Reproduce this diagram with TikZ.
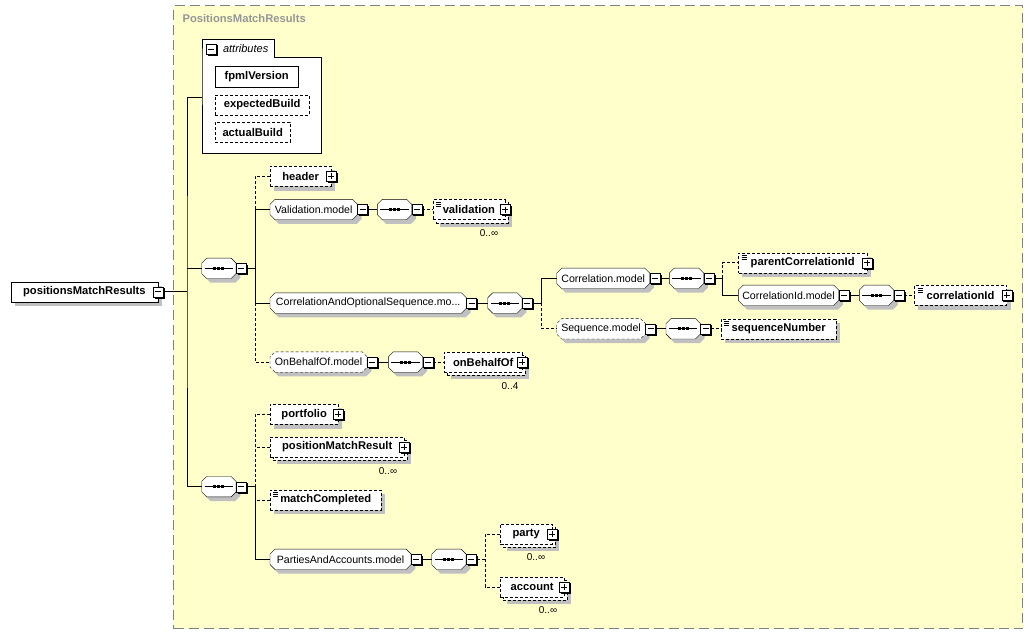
\documentclass[tikz,border=0pt]{standalone}
\usepackage{fontspec}
\setmainfont{Liberation Sans}
\usetikzlibrary{positioning, calc, fit}
\definecolor{groupyellow}{RGB}{255, 255, 204}
\definecolor{groupborder}{RGB}{128, 128, 128}
\definecolor{titlegray}{RGB}{150, 150, 150}
\definecolor{shadowgray}{RGB}{192, 192, 192}

\pgfdeclarelayer{groupbg}
\pgfdeclarelayer{shadowbg}
\pgfdeclarelayer{toggleshadow}
\pgfdeclarelayer{front}
\pgfsetlayers{groupbg,shadowbg,main,toggleshadow,front}

% octagon with cut corners for model groups and compositors
\newdimen\octcut \octcut=5pt
\newdimen\octxa \newdimen\octya \newdimen\octxb \newdimen\octyb
\newdimen\octxc \newdimen\octyc \newdimen\octxd \newdimen\octyd
\makeatletter
\pgfdeclareshape{octbox}{
  \inheritsavedanchors[from=rectangle]
  \inheritanchorborder[from=rectangle]
  \inheritanchor[from=rectangle]{center}
  \inheritanchor[from=rectangle]{north}
  \inheritanchor[from=rectangle]{south}
  \inheritanchor[from=rectangle]{west}
  \inheritanchor[from=rectangle]{east}
  \inheritanchor[from=rectangle]{north west}
  \inheritanchor[from=rectangle]{north east}
  \inheritanchor[from=rectangle]{south west}
  \inheritanchor[from=rectangle]{south east}
  \inheritanchor[from=rectangle]{base}
  \inheritanchor[from=rectangle]{mid}
  \backgroundpath{%
    \southwest \octxa=\pgf@x \octya=\pgf@y
    \northeast \octxb=\pgf@x \octyb=\pgf@y
    \octxc=\octxa \advance\octxc by\octcut
    \octyc=\octya \advance\octyc by\octcut
    \octxd=\octxb \advance\octxd by-\octcut
    \octyd=\octyb \advance\octyd by-\octcut
    \pgfpathmoveto{\pgfqpoint{\octxc}{\octya}}%
    \pgfpathlineto{\pgfqpoint{\octxd}{\octya}}%
    \pgfpathlineto{\pgfqpoint{\octxb}{\octyc}}%
    \pgfpathlineto{\pgfqpoint{\octxb}{\octyd}}%
    \pgfpathlineto{\pgfqpoint{\octxd}{\octyb}}%
    \pgfpathlineto{\pgfqpoint{\octxc}{\octyb}}%
    \pgfpathlineto{\pgfqpoint{\octxa}{\octyd}}%
    \pgfpathlineto{\pgfqpoint{\octxa}{\octyc}}%
    \pgfpathclose
  }
}
\makeatother

\begin{document}
\begin{tikzpicture}[
    x=1pt, y=-1pt,
    line width=0.8pt,
    regfont/.style={font=\fontsize{10.6}{12}\selectfont},
    boldfont/.style={font=\fontsize{11.2}{13}\selectfont\bfseries},
    optl/.style={dash pattern=on 3pt off 2pt},
    link/.style={draw, line width=0.8pt},
    elem/.style={rectangle, draw, fill=white, minimum height=20pt, inner sep=0pt, anchor=west, boldfont},
    optelem/.style={elem, optl},
    simple/.style={path picture={
        \foreach \k in {2.5,4.5,6.5}
            \draw[black, line width=0.6pt, solid] ([xshift=3pt, yshift=-\k pt]path picture bounding box.north west) -- ++(5pt,0);}},
    model/.style={octbox, draw, fill=white, minimum height=20pt, inner sep=0pt, anchor=west, regfont},
    optmodel/.style={model, optl},
    seq/.style={octbox, draw, fill=white, minimum width=34pt, minimum height=20pt, inner sep=0pt, anchor=west,
        path picture={
            \draw[black, line width=0.8pt, solid] ([xshift=3pt]path picture bounding box.west) -- ([xshift=-3pt]path picture bounding box.east);
            \foreach \k in {-4,0,4}
                \fill[black] ([xshift=\k pt]path picture bounding box.center) +(-1.5pt,-1.5pt) rectangle +(1.5pt,1.5pt);}},
    toggle/.style={rectangle, draw, fill=white, minimum size=10pt, inner sep=0pt, solid},
    minus/.style={toggle, path picture={
        \draw[black, line width=0.8pt] ([xshift=2pt]path picture bounding box.west) -- ([xshift=-2pt]path picture bounding box.east);}},
    plus/.style={toggle, path picture={
        \draw[black, line width=0.8pt] ([xshift=2pt]path picture bounding box.west) -- ([xshift=-2pt]path picture bounding box.east);
        \draw[black, line width=0.8pt] ([yshift=-2pt]path picture bounding box.north) -- ([yshift=2pt]path picture bounding box.south);}},
    shadowbox/.style={inner sep=0pt, draw=none, fill=shadowgray, xshift=4pt, yshift=-4pt},
    mult/.style={font=\fontsize{10}{12}\selectfont, inner sep=0pt}
]
\useasboundingbox (0,0) rectangle (1033,634);

% Group
\begin{pgfonlayer}{groupbg}
\node (group) [draw=groupborder, fill=groupyellow, line width=1.2pt, dash pattern=on 10pt off 5pt,
    minimum width=849pt, minimum height=623pt, anchor=north west, inner sep=0pt] at (173,5) {};
\end{pgfonlayer}
\node (groupTitle) [anchor=west, boldfont, text=titlegray] at (179,18) {PositionsMatchResults};

% Attributes
\draw [fill=white] (202,57) -- (202,39) -- (274,39) -- (274,57) -- (320.7,57) -- (320.7,153) -- (202,153) -- cycle;
\coordinate (attrsL) at (202,97);
\node (attrsLabel) [anchor=west, font=\fontsize{11}{13}\selectfont\itshape] at (219.5,48.5) {attributes};
\node (fpmlVersion) [elem, minimum width=83pt] at (215,76.7) {fpmlVersion};
\node (expectedBuild) [optelem, minimum width=94pt] at (215,105) {expectedBuild};
\node (actualBuild) [optelem, minimum width=75pt] at (215,132) {actualBuild};

% Root
\node (root) [elem, minimum width=147pt] at (10.7,291.7) {positionsMatchResults};
\coordinate (spine) at (187,291.7);

% First sequence
\node (seqA) [seq] at (201.7,268.3) {};
\coordinate (jA) at (255,268.3);
\node (header) [optelem, minimum width=61pt] at (270,176.3) {header};

\node (valM) [model, minimum width=87pt] at (270,209.5) {Validation.model};
\node (seqV) [seq] at (377.3,209.5) {};
\node (validation) [optelem, simple, minimum width=72pt] at (432.7,209.5) {validation};
\node (validationN) [mult] at (489,233) {0..∞};

\node (corrA) [model, minimum width=196pt] at (270,303) {CorrelationAndOptionalSequence.mo...};
\node (seqC) [seq] at (487.7,303) {};
\coordinate (jC) at (541.7,303);

\node (corrM) [model, minimum width=92.6pt] at (556.7,278.3) {Correlation.model};
\node (seqCm) [seq] at (669.3,278.3) {};
\coordinate (jCm) at (722.7,278.3);
\node (parentCorr) [optelem, simple, minimum width=128.4pt] at (738.3,262.8) {parentCorrelationId};
\node (corrIdM) [model, minimum width=100pt] at (738.3,295.3) {CorrelationId.model};
\node (seqCid) [seq] at (859.3,295.3) {};
\node (corrId) [optelem, simple, minimum width=92pt] at (914.3,295.3) {correlationId};

\node (seqM) [optmodel, minimum width=88.3pt] at (556.7,328.8) {Sequence.model};
\node (seqS) [seq] at (666,328.8) {};
\node (seqNum) [optelem, simple, minimum width=115pt] at (721,328.8) {sequenceNumber};

\node (onbM) [optmodel, minimum width=96.7pt] at (270,362) {OnBehalfOf.model};
\node (seqO) [seq] at (388.3,362) {};
\node (onBehalfOf) [optelem, minimum width=78pt] at (444,362) {onBehalfOf};
\node (onBehalfOfN) [mult] at (510,386) {0..4};

% Second sequence
\node (seqB) [seq] at (201.7,486.7) {};
\coordinate (jB) at (255,486.7);
\node (portfolio) [optelem, minimum width=68pt] at (270,414.3) {portfolio};
\node (posMatch) [optelem, minimum width=134pt] at (270,447) {positionMatchResult};
\node (posMatchN) [mult] at (388,471) {0..∞};
\node (matchCompl) [optelem, simple, minimum width=111pt] at (270,500) {matchCompleted};

\node (partiesM) [model, minimum width=140.7pt] at (270,559.3) {PartiesAndAccounts.model};
\node (seqP) [seq] at (431.7,559.3) {};
\coordinate (jP) at (485,559.3);
\node (party) [optelem, minimum width=52pt] at (500,534) {party};
\node (partyN) [mult] at (536,557) {0..∞};
\node (account) [optelem, minimum width=64pt] at (500,587) {account};
\node (accountN) [mult] at (548,610) {0..∞};

% Toggles
\begin{pgfonlayer}{front}
\node (attrsT) [minus] at (211.2,49) {};
\node (rootT) [minus] at (root.east) {};
\node (headerT) [plus] at (header.east) {};
\node (validationT) [plus] at (validation.east) {};
\node (parentCorrT) [plus] at (parentCorr.east) {};
\node (corrIdT) [plus] at (corrId.east) {};
\node (onBehalfOfT) [plus] at (onBehalfOf.east) {};
\node (portfolioT) [plus] at (portfolio.east) {};
\node (posMatchT) [plus] at (posMatch.east) {};
\node (partyT) [plus] at (party.east) {};
\node (accountT) [plus] at (account.east) {};
\foreach \n in {seqA, valM, seqV, corrA, seqC, corrM, seqCm, corrIdM, seqCid, seqM, seqS, onbM, seqO, seqB, partiesM, seqP}
    \node (\n T) [minus, anchor=west] at (\n.east) {};
\end{pgfonlayer}

% Shadows
\begin{pgfonlayer}{shadowbg}
\foreach \n in {root, fpmlVersion, expectedBuild, actualBuild, header, parentCorr, corrId, seqNum, portfolio, matchCompl}
    \node [shadowbox, fit=(\n)] {};
\foreach \n in {seqA, valM, seqV, corrA, seqC, corrM, seqCm, corrIdM, seqCid, seqM, seqS, onbM, seqO, seqB, partiesM, seqP}
    \node [shadowbox, octbox, fit=(\n)] {};
\foreach \n in {validation, onBehalfOf, posMatch, party, account} {
    \node [shadowbox, fit=(\n), xshift=3pt, yshift=-3pt] {};
    \node [inner sep=0pt, draw, optl, fill=white, fit=(\n), xshift=3pt, yshift=-3pt] {};
}
\end{pgfonlayer}
\begin{pgfonlayer}{toggleshadow}
\foreach \n in {attrsT, rootT, headerT, validationT, parentCorrT, corrIdT, onBehalfOfT, portfolioT, posMatchT, partyT, accountT,
        seqAT, valMT, seqVT, corrAT, seqCT, corrMT, seqCmT, corrIdMT, seqCidT, seqMT, seqST, onbMT, seqOT, seqBT, partiesMT, seqPT}
    \fill ([shift={(1.6pt,-1.6pt)}]\n.south west) rectangle ([shift={(1.6pt,-1.6pt)}]\n.north east);
\end{pgfonlayer}

% Connectors
\draw [link] (rootT.east) -- (spine);
\draw [link] (attrsL) -| (spine) |- (seqB.west);
\draw [link] (spine |- seqA.west) -- (seqA.west);
\draw [link] (seqAT.east) -- (jA);
\draw [link, optl] (header.west) -| (jA |- valM.west);
\draw [link] (valM.west) -| (jA |- corrA.west) -- (corrA.west);
\draw [link, optl] (jA |- corrA.west) |- (onbM.west);

\draw [link] (valMT.east) -- (seqV.west);
\draw [link, optl] (seqVT.east) -- (validation.west);

\draw [link] (corrAT.east) -- (seqC.west);
\draw [link] (seqCT.east) -- (jC);
\draw [link] (jC) |- (corrM.west);
\draw [link, optl] (jC) |- (seqM.west);
\draw [link] (corrMT.east) -- (seqCm.west);
\draw [link] (seqCmT.east) -- (jCm);
\draw [link, optl] (jCm) |- (parentCorr.west);
\draw [link] (jCm) |- (corrIdM.west);
\draw [link] (corrIdMT.east) -- (seqCid.west);
\draw [link, optl] (seqCidT.east) -- (corrId.west);
\draw [link] (seqMT.east) -- (seqS.west);
\draw [link, optl] (seqST.east) -- (seqNum.west);

\draw [link] (onbMT.east) -- (seqO.west);
\draw [link, optl] (seqOT.east) -- (onBehalfOf.west);

\draw [link] (seqBT.east) -- (jB);
\draw [link, optl] (portfolio.west) -| (jB);
\draw [link, optl] (posMatch.west) -- (jB |- posMatch.west);
\draw [link, optl] (matchCompl.west) -- (jB |- matchCompl.west);
\draw [link] (jB) |- (partiesM.west);
\draw [link] (partiesMT.east) -- (seqP.west);
\draw [link, optl] (seqPT.east) -- (jP);
\draw [link, optl] (party.west) -| (jP);
\draw [link, optl] (jP) |- (account.west);

\end{tikzpicture}
\end{document}
